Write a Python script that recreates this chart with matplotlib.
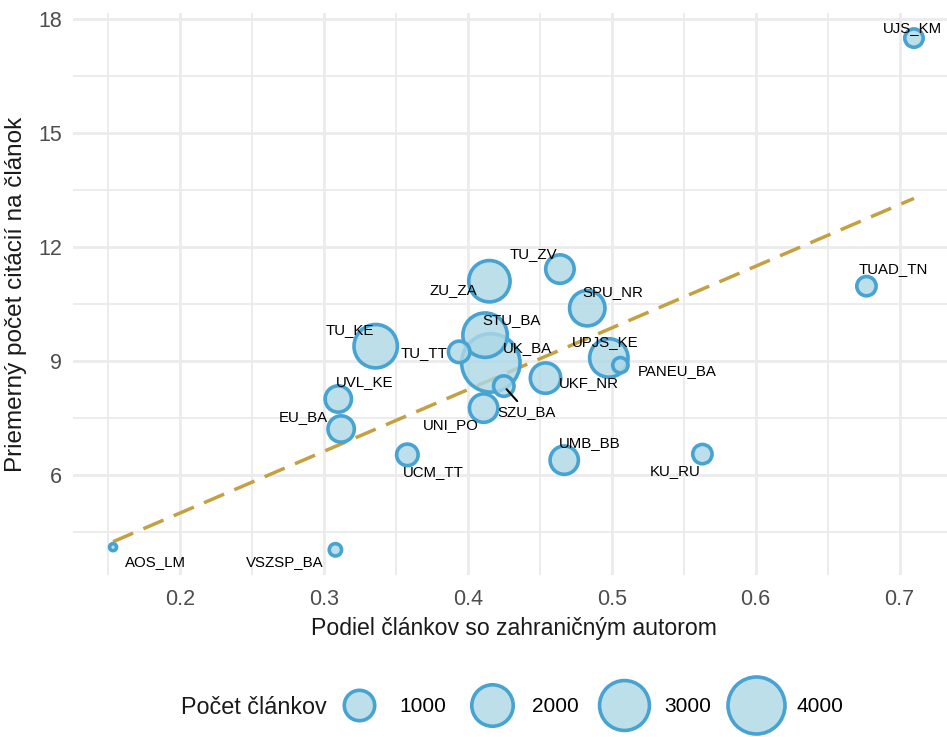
import matplotlib
matplotlib.use("Agg")
import matplotlib.pyplot as plt
from matplotlib.lines import Line2D
import numpy as np

plt.rcParams['font.family'] = ['Liberation Sans', 'DejaVu Sans']

# data (drawn largest first, like the original)
schools = ['UK_BA', 'STU_BA', 'TU_KE', 'ZU_ZA', 'UPJS_KE', 'SPU_NR', 'UKF_NR',
           'TU_ZV', 'UNI_PO', 'UMB_BB', 'UVL_KE', 'EU_BA', 'TU_TT', 'UCM_TT',
           'SZU_BA', 'TUAD_TN', 'KU_RU', 'UJS_KM', 'PANEU_BA', 'VSZSP_BA', 'AOS_LM']
share = [0.416, 0.412, 0.336, 0.415, 0.498, 0.483, 0.454,
         0.464, 0.411, 0.467, 0.310, 0.312, 0.394, 0.358,
         0.425, 0.677, 0.563, 0.710, 0.506, 0.308, 0.1535]
citations = [8.95, 9.68, 9.39, 11.10, 9.08, 10.39, 8.55,
             11.42, 7.76, 6.39, 8.00, 7.21, 9.24, 6.53,
             8.34, 10.97, 6.55, 17.50, 8.89, 4.03, 4.10]
articles = [4210, 2330, 2210, 1990, 1690, 1410, 1000,
            860, 860, 850, 720, 720, 450, 450,
            400, 350, 350, 310, 200, 120, 40]

# linear trend as drawn (intercept, slope)
trend = [1.75, 16.24]

legend_sizes = [1000, 2000, 3000, 4000]

# repelled label positions (data coords)
label_x = [0.4417, 0.4306, 0.3181, 0.3896, 0.4958, 0.5007, 0.4840,
           0.4458, 0.3882, 0.4847, 0.3285, 0.2854, 0.3694, 0.3757,
           0.4410, 0.6958, 0.5444, 0.7090, 0.5458, 0.2729, 0.1833]
label_y = [9.34, 10.08, 9.82, 10.87, 9.50, 10.82, 8.42,
           11.82, 7.32, 6.84, 8.45, 7.53, 9.21, 6.08,
           7.66, 11.42, 6.11, 17.76, 8.74, 3.71, 3.71]
with_segment = ['SZU_BA']

face = (0.678, 0.847, 0.902, 0.82)
edge = '#47A3D1'
lw = 2.6


def diameter_pt(n):
    # ggplot-like area scale: diameter grows with sqrt of count
    d_px = 8 + 0.835 * np.sqrt(np.clip(np.asarray(n, float) - 30, 0, None))
    return d_px * 0.72 - lw


fig = plt.figure(figsize=(9.47, 7.37), dpi=100)
W, H = 947, 737
ax = fig.add_axes([73 / W, 1 - 575.4 / H, 881 / W, 562.9 / H])

x0, x1 = min(share), max(share)
y0, y1 = min(citations), max(citations)
ax.set_xlim(x0 - 0.05 * (x1 - x0), x1 + 0.05 * (x1 - x0))
ax.set_ylim(y0 - 0.05 * (y1 - y0), y1 + 0.05 * (y1 - y0))

ax.set_xticks([0.2, 0.3, 0.4, 0.5, 0.6, 0.7])
ax.set_xticklabels(['0.2', '0.3', '0.4', '0.5', '0.6', '0.7'])
ax.set_xticks(np.arange(0.15, 0.75, 0.1), minor=True)
ax.set_yticks([6, 9, 12, 15, 18])
ax.set_yticks([4.5, 7.5, 10.5, 13.5, 16.5], minor=True)
ax.grid(which='major', color='#EBEBEB', lw=2.0)
ax.grid(which='minor', color='#EBEBEB', lw=1.3)
ax.set_axisbelow(True)
for s in ax.spines.values():
    s.set_visible(False)
ax.tick_params(which='both', length=0)
ax.tick_params(axis='x', labelsize=15.5, labelcolor='#4D4D4D', pad=10)
ax.tick_params(axis='y', labelsize=15.5, labelcolor='#4D4D4D', pad=8)

xs = np.array([x0, x1])
ax.plot(xs, trend[0] + trend[1] * xs, color='#C4A040', lw=2.5,
        dashes=(6.3, 3.2), zorder=2)

ax.scatter(share, citations, s=diameter_pt(articles) ** 2, facecolor=face,
           edgecolor=edge, linewidths=lw, zorder=3)

for name, px, py, lx, ly in zip(schools, share, citations, label_x, label_y):
    if name in with_segment:
        ax.annotate(name, (px, py), xytext=(lx, ly), fontsize=10.8,
                    ha='center', va='center', zorder=4,
                    arrowprops=dict(arrowstyle='-', color='black', lw=1.5,
                                    shrinkA=1, shrinkB=3))
    else:
        ax.text(lx, ly, name, fontsize=10.8, ha='center', va='center', zorder=4)

ax.set_xlabel('Podiel článkov so zahraničným autorom', fontsize=16.6,
              labelpad=5, color='#1A1A1A')
ax.set_ylabel('Priemerný počet citácií na článok', fontsize=17.5,
              labelpad=8, color='#1A1A1A')

handles = [Line2D([], [], ls='none', marker='o', markersize=diameter_pt(v),
                  markerfacecolor=face, markeredgecolor=edge,
                  markeredgewidth=lw) for v in legend_sizes]
fig.legend(handles, [str(v) for v in legend_sizes], ncol=4, loc='center left',
           bbox_to_anchor=(329 / W, 1 - 707 / H), frameon=False, fontsize=15,
           handlelength=2.9, handletextpad=0.5, columnspacing=0.7,
           borderpad=0, borderaxespad=0)
fig.text(181 / W, 1 - 707 / H, 'Počet článkov', fontsize=16.8,
         ha='left', va='center', color='#1A1A1A')

fig.savefig('out.png', dpi=100)
